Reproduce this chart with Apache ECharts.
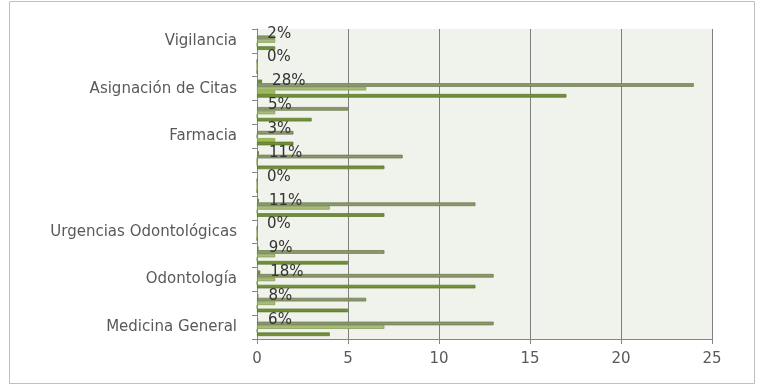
<!DOCTYPE html>
<html>
<head>
<meta charset="utf-8">
<script src="https://cdn.jsdelivr.net/npm/echarts@6/dist/echarts.min.js"></script>
<style>
  html, body { margin: 0; padding: 0; background: #ffffff; }
  #chart { width: 758px; height: 387px; }
</style>
</head>
<body>
<div id="chart"></div>
<script>
// Categories from bottom to top; only every other one carries a visible name.
const categories = ['Medicina General', '', 'Odontología', '', 'Urgencias Odontológicas', '', '', '',
                    'Farmacia', '', 'Asignación de Citas', '', 'Vigilancia'];

// Counts per category, one array per series (bottom bar of each group first).
const serieOscura    = [4, 5, 12, 5, 0, 7, 0, 7, 2, 3, 17, 0, 1];
const serieBrillante = [0, 0, 0, 0, 0, 0, 0, 0, 1, 0, 1, 0, 0];
const seriePalida    = [7, 1, 1, 1, 0, 4, 0, 0, 0, 1, 6, 0, 1];
const serieGris      = [13, 6, 13, 7, 0, 12, 0, 8, 2, 5, 24, 0, 1];
// Share of each category, plotted as a (very short) bar with its label.
const porcentajes    = [0.06, 0.08, 0.18, 0.09, 0, 0.11, 0, 0.11, 0.03, 0.05, 0.28, 0, 0.02];

// Value axis ticks.
const xMin = 0, xMax = 25, xStep = 5;

const chart = echarts.init(document.getElementById('chart'), null, { renderer: 'canvas' });

const FONT = 'DejaVu Sans';
const BAR_W = 3.6;

function barSeries(name, data, fill, stroke) {
  return {
    name: name,
    type: 'bar',
    data: data,
    barWidth: BAR_W,
    barGap: '0%',
    itemStyle: { color: fill, borderColor: stroke, borderWidth: 0.7 },
    silent: true,
    animation: false
  };
}

const series = [
  {
    name: 'Porcentaje',
    type: 'bar',
    data: porcentajes,
    barWidth: BAR_W,
    barGap: '0%',
    itemStyle: { color: '#6f8a3a' },
    label: {
      show: true,
      position: 'right',
      distance: 10,
      formatter: p => Math.round(p.value * 100) + '%',
      fontFamily: FONT,
      fontSize: 15,
      color: '#333333'
    },
    silent: true,
    animation: false
  },
  barSeries('Serie 4', serieGris, '#8a986b', '#69764d'),
  barSeries('Serie 3', seriePalida, '#a7bd78', '#7e954f'),
  barSeries('Serie 2', serieBrillante, '#9cc14e', '#7fa33a'),
  barSeries('Serie 1', serieOscura, '#718e39', '#5a762b')
];

chart.setOption({
  animation: false,
  backgroundColor: '#ffffff',
  grid: {
    left: 257, right: 46, top: 29, bottom: 48,
    show: true,
    backgroundColor: '#eff3eb',
    borderWidth: 0
  },
  xAxis: {
    type: 'value',
    min: xMin, max: xMax, interval: xStep,
    axisLine: { show: true, lineStyle: { color: '#868686', width: 1 } },
    axisTick: { show: true, length: 5, lineStyle: { color: '#868686' } },
    splitLine: { show: true, lineStyle: { color: '#7f7f7f', width: 1 } },
    axisLabel: { fontFamily: FONT, fontSize: 15, color: '#595959', margin: 13 }
  },
  yAxis: {
    type: 'category',
    data: categories,
    axisLine: { show: true, lineStyle: { color: '#868686', width: 1 } },
    axisTick: { show: true, length: 5, interval: 0, lineStyle: { color: '#868686' } },
    splitLine: { show: false },
    axisLabel: { interval: 0, fontFamily: FONT, fontSize: 15, color: '#595959', margin: 20 }
  },
  series: series,
  graphic: [{
    type: 'rect',
    shape: { x: 9.5, y: 1.5, width: 745, height: 382 },
    style: { fill: 'none', stroke: '#bfbfbf', lineWidth: 1 },
    silent: true,
    z: -1
  }]
});
</script>
</body>
</html>
